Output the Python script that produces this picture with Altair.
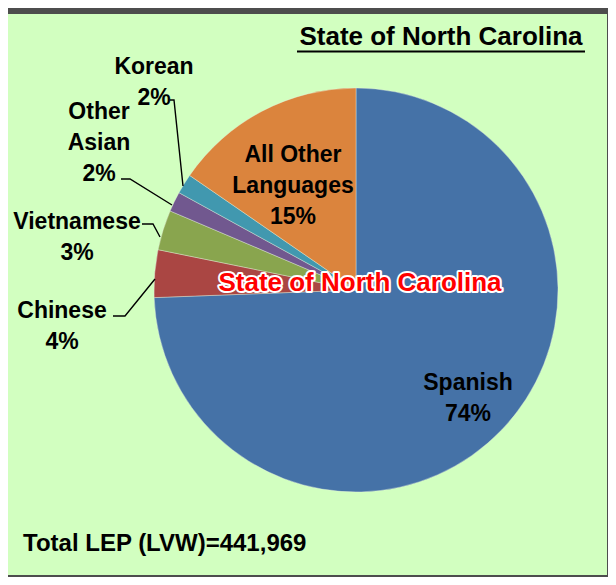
import altair as alt
import pandas as pd

# ---- data ----
languages = ["Spanish", "Chinese", "Vietnamese", "Other Asian", "Korean", "All Other Languages"]
shares = [74.4, 3.8, 3.2, 1.6, 1.6, 15.4]
label_names = ["Spanish", "Chinese", "Vietnamese", "Other\nAsian", "Korean", "All Other\nLanguages"]
total_text = "Total LEP (LVW)=441,969"
title_text = "State of North Carolina"

# ---- styling / layout (kept apart from the data) ----
colors = ["#4572A7", "#AA4643", "#89A54E", "#71588F", "#4198AF", "#DB843D"]
label_x = [460, 54, 69, 91, 146, 285]
label_y = [376, 304, 215, 105, 60, 148]
leaders = {
    "Korean": [(162, 86), (166, 86), (175, 172)],
    "Other Asian": [(113, 165), (122, 165), (164, 191)],
    "Vietnamese": [(134, 210), (145, 210), (152, 223)],
    "Chinese": [(105, 302), (117, 302), (147, 265)],
}
CX, CY, R = 348, 276, 202
BOLD = "Liberation Sans, Arial, sans-serif"

df = pd.DataFrame({"language": languages, "share": shares, "idx": list(range(len(languages)))})

labels = pd.DataFrame({
    "language": languages,
    "name": label_names,
    "share": shares,
    "lx": label_x,
    "ly": label_y,
})

lead_rows = []
for k, pts in leaders.items():
    for i, (px, py) in enumerate(pts):
        lead_rows.append({"grp": k, "o": i, "px": px, "py": py})
lead_df = pd.DataFrame(lead_rows)

pie = alt.Chart(df).mark_arc(outerRadius=R, stroke="#e8f0e0", strokeWidth=0.4).encode(
    theta=alt.Theta("share:Q", stack=True),
    color=alt.Color("language:N", scale=alt.Scale(domain=languages, range=colors), legend=None),
    order=alt.Order("idx:Q"),
    x=alt.value(CX),
    y=alt.value(CY),
)

slice_labels = alt.Chart(labels).transform_calculate(
    txt="datum.name + '\\n' + round(datum.share) + '%'"
).mark_text(
    align="center", baseline="alphabetic", lineBreak="\n", lineHeight=31,
    font=BOLD, fontSize=23, fontWeight="bold", color="#000000",
).encode(
    x=alt.X("lx:Q", scale=None, axis=None),
    y=alt.Y("ly:Q", scale=None, axis=None),
    text="txt:N",
)

leader_lines = alt.Chart(lead_df).mark_line(color="#000000", strokeWidth=1.4).encode(
    x=alt.X("px:Q", scale=None, axis=None),
    y=alt.Y("py:Q", scale=None, axis=None),
    detail="grp:N",
    order="o:Q",
)

one = pd.DataFrame({"t": [title_text]})
tot = pd.DataFrame({"t": [total_text]})

title = alt.Chart(one).mark_text(
    align="center", baseline="alphabetic", font=BOLD, fontSize=26, fontWeight="bold", color="#000000"
).encode(x=alt.value(433), y=alt.value(31), text="t:N")
underline = alt.Chart(one).mark_rule(color="#000000", strokeWidth=2).encode(
    x=alt.value(289), x2=alt.value(577), y=alt.value(37.5)
)

center_outline = alt.Chart(one).mark_text(
    align="center", baseline="alphabetic", font=BOLD, fontSize=26, fontWeight="bold",
    color="#ffffff", stroke="#ffffff", strokeWidth=4, strokeJoin="round",
).encode(x=alt.value(352), y=alt.value(277), text="t:N")
center_label = alt.Chart(one).mark_text(
    align="center", baseline="alphabetic", font=BOLD, fontSize=26, fontWeight="bold", color="#FF0000"
).encode(x=alt.value(352), y=alt.value(277), text="t:N")

total = alt.Chart(tot).mark_text(
    align="left", baseline="alphabetic", font=BOLD, fontSize=24, fontWeight="bold", color="#000000"
).encode(x=alt.value(15), y=alt.value(537), text="t:N")

chart = alt.layer(
    pie, leader_lines, slice_labels, title, underline,
    center_outline, center_label, total,
).properties(
    width=599, height=561,
    autosize=alt.AutoSizeParams(type="none"),
    padding={"left": 0, "top": 6, "right": 1, "bottom": 2},
    background="#4D4D4D",
).configure_view(fill="#D2FFC0", stroke=None)

chart.save("out.html", embed_options={"renderer": "svg", "actions": False})
